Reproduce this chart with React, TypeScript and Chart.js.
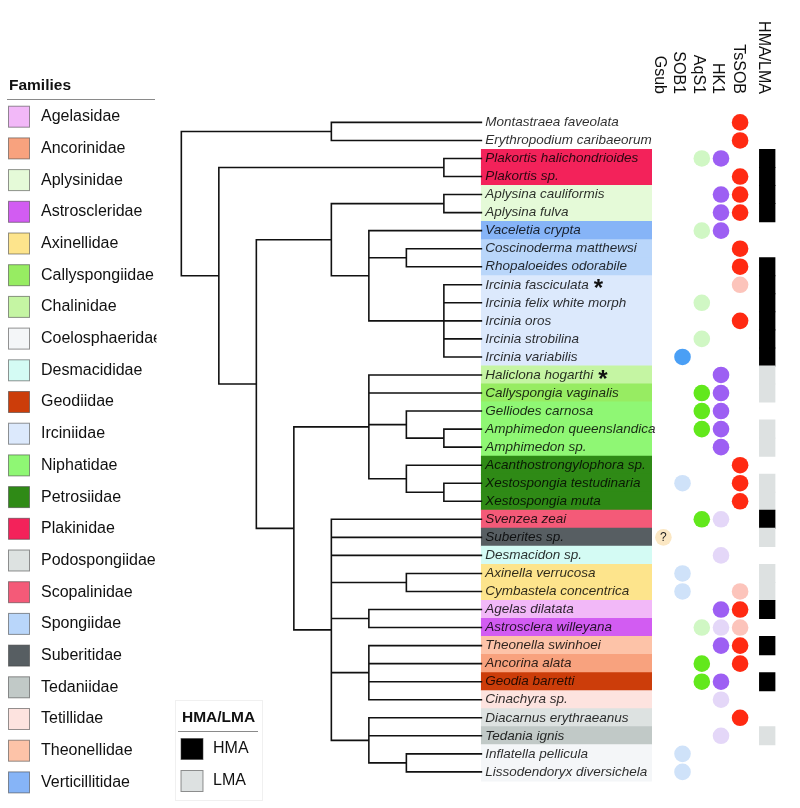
import React, { useEffect, useRef } from 'react';
import { Chart, registerables } from 'chart.js';

Chart.register(...registerables);

const FONT = '"Liberation Sans", Arial, sans-serif';

const SPECIES = [
  'Montastraea faveolata', 'Erythropodium caribaeorum', 'Plakortis halichondrioides', 'Plakortis sp.',
  'Aplysina cauliformis', 'Aplysina fulva', 'Vaceletia crypta', 'Coscinoderma matthewsi',
  'Rhopaloeides odorabile', 'Ircinia fasciculata', 'Ircinia felix white morph', 'Ircinia oros',
  'Ircinia strobilina', 'Ircinia variabilis', 'Haliclona hogarthi', 'Callyspongia vaginalis',
  'Gelliodes carnosa', 'Amphimedon queenslandica', 'Amphimedon sp.', 'Acanthostrongylophora sp.',
  'Xestospongia testudinaria', 'Xestospongia muta', 'Svenzea zeai', 'Suberites sp.',
  'Desmacidon sp.', 'Axinella verrucosa', 'Cymbastela concentrica', 'Agelas dilatata',
  'Astrosclera willeyana', 'Theonella swinhoei', 'Ancorina alata', 'Geodia barretti',
  'Cinachyra sp.', 'Diacarnus erythraeanus', 'Tedania ignis', 'Inflatella pellicula',
  'Lissodendoryx diversichela',
];

const STARRED = ['Ircinia fasciculata', 'Haliclona hogarthi'];

const SPECIES_FAMILY = [
  '', '', 'Plakinidae', 'Plakinidae',
  'Aplysinidae', 'Aplysinidae', 'Verticillitidae', 'Spongiidae',
  'Spongiidae', 'Irciniidae', 'Irciniidae', 'Irciniidae',
  'Irciniidae', 'Irciniidae', 'Chalinidae', 'Callyspongiidae',
  'Niphatidae', 'Niphatidae', 'Niphatidae', 'Petrosiidae',
  'Petrosiidae', 'Petrosiidae', 'Scopalinidae', 'Suberitidae',
  'Desmacididae', 'Axinellidae', 'Axinellidae', 'Agelasidae',
  'Astroscleridae', 'Theonellidae', 'Ancorinidae', 'Geodiidae',
  'Tetillidae', 'Podospongiidae', 'Tedaniidae', 'Coelosphaeridae',
  'Coelosphaeridae',
];

const FAMILIES = [
  'Agelasidae', 'Ancorinidae', 'Aplysinidae', 'Astroscleridae', 'Axinellidae', 'Callyspongiidae',
  'Chalinidae', 'Coelosphaeridae', 'Desmacididae', 'Geodiidae', 'Irciniidae', 'Niphatidae',
  'Petrosiidae', 'Plakinidae', 'Podospongiidae', 'Scopalinidae', 'Spongiidae', 'Suberitidae',
  'Tedaniidae', 'Tetillidae', 'Theonellidae', 'Verticillitidae',
];
const FAMILY_COLORS = [
  '#f2b8f8', '#f8a27e', '#e5fad8', '#d25cf2', '#fde48c', '#97ec62',
  '#c5f5a3', '#f4f6f8', '#d4fbf4', '#cc3d0a', '#dce9fc', '#8ff774',
  '#2f8a16', '#f3225a', '#dde2e1', '#f45a78', '#b9d6fa', '#575e62',
  '#c1c9c7', '#fde3df', '#fdc3a8', '#86b4f7',
];

// Gene presence per species: 0 = absent, 1 = present, 2 = partial / weak, 3 = uncertain
const GENES = ['Gsub', 'SOB1', 'AqS1', 'HK1', 'TsSOB'];
const GSUB = [0,0,0,0,0,0,0,0,0,0, 0,0,0,0,0,0,0,0,0,0, 0,0,0,3,0,0,0,0,0,0, 0,0,0,0,0,0,0];
const SOB1 = [0,0,0,0,0,0,0,0,0,0, 0,0,0,1,0,0,0,0,0,0, 2,0,0,0,0,2,2,0,0,0, 0,0,0,0,0,2,2];
const AQS1 = [0,0,2,0,0,0,2,0,0,0, 2,0,2,0,0,1,1,1,0,0, 0,0,1,0,0,0,0,0,2,0, 1,1,0,0,0,0,0];
const HK1 = [0,0,1,0,1,1,1,0,0,0, 0,0,0,0,1,1,1,1,1,0, 0,0,2,0,2,0,0,1,2,1, 0,1,2,0,2,0,0];
const TSSOB = [1,1,0,1,1,1,0,1,1,2, 0,1,0,0,0,0,0,0,0,1, 1,1,0,0,0,0,2,1,2,1, 1,0,0,1,0,0,0];
const GENE_VALUES = [GSUB, SOB1, AQS1, HK1, TSSOB];
const GENE_STRONG = ['#fbe7c3', '#4a9ff5', '#62e81c', '#9d5ff3', '#ff2a12'];
const GENE_WEAK = ['#fbe7c3', '#cfe2f9', '#d0f7c4', '#e4d7f8', '#fcc4bb'];

const HMA_LMA = ['', '', 'HMA', 'HMA', 'HMA', 'HMA', '', '', 'HMA', 'HMA',
  'HMA', 'HMA', 'HMA', 'HMA', 'LMA', 'LMA', '', 'LMA', 'LMA', '',
  'LMA', 'LMA', 'HMA', 'LMA', '', 'LMA', 'LMA', 'HMA', '', 'HMA',
  '', 'HMA', '', '', 'LMA', '', ''];
const HMA_CATS = ['HMA', 'LMA'];
const HMA_COLORS = ['#000000', '#dde1e1'];

// Cladogram: [nodeLevel, ...children]; numbers are species indices
const TREE: any = [0,
  [4, 0, 1],
  [1,
    [7, 2, 3],
    [2,
      [4, [7, 4, 5], [5, 6, [6, 7, 8], [7, 9, 10, 11, 12, 13]]],
      [3,
        [5, 14, 15, [6, 16, [7, 17, 18]], [6, 19, [7, 20, 21]]],
        [4, 22, 23, 24, [6, 25, 26], [5, 27, 28], [5, 29, 30, 31, 32], [5, 33, 34, [6, 35, 36]]],
      ],
    ],
  ],
];
const LEAF_LEVEL = 8;

// layout (x in page pixel units, y in row units)
const TREE_X0 = 176.7;
const TREE_STEP = 38.3;
const BOX_X0 = 483;
const BOX_X1 = 657;
const LABEL_X = 487;
const GENE_X = [669, 688.5, 708.2, 727.8, 747.3];
const HEADER_X = [665, 684.5, 704.5, 724, 745.5, 771];
const HMA_X0 = 767;
const HMA_X1 = 783;
const ROW_PX = 18.42;
const Y_MIN = -116.5 / ROW_PX;
const Y_MAX = Y_MIN + 808 / ROW_PX;

function levelX(l: number) { return TREE_X0 + l * TREE_STEP; }

function layoutTree(node: any, segs: number[][]): { x: number; y: number } {
  if (typeof node === 'number') return { x: levelX(LEAF_LEVEL), y: node };
  const [level, ...kids] = node;
  const x = levelX(level);
  const pts = kids.map((k: any) => layoutTree(k, segs));
  const y0 = pts[0].y;
  const y1 = pts[pts.length - 1].y;
  segs.push([x, y0, x, y1]);
  pts.forEach((p: any) => segs.push([x, p.y, p.x, p.y]));
  return { x, y: (y0 + y1) / 2 };
}

const overlay = {
  id: 'overlay',
  afterDatasetsDraw(chart: any) {
    const ctx = chart.ctx as CanvasRenderingContext2D;
    const xs = chart.scales.x;
    const ys = chart.scales.y;
    ctx.save();
    // species labels
    ctx.textBaseline = 'middle';
    ctx.textAlign = 'left';
    SPECIES.forEach((name, i) => {
      const y = ys.getPixelForValue(i);
      const x = xs.getPixelForValue(LABEL_X);
      ctx.font = `italic 13.5px ${FONT}`;
      ctx.fillStyle = 'rgba(0,0,0,0.82)';
      ctx.fillText(name, x, y);
      if (STARRED.includes(name)) {
        const w = ctx.measureText(name).width;
        ctx.font = `bold 24px ${FONT}`;
        ctx.fillStyle = '#111';
        ctx.fillText('*', x + w + 5, y + 5);
      }
    });
    // "?" for uncertain
    GSUB.forEach((v, i) => {
      if (v === 3) {
        ctx.font = `12px ${FONT}`;
        ctx.fillStyle = '#222';
        ctx.textAlign = 'center';
        ctx.fillText('?', xs.getPixelForValue(GENE_X[0]), ys.getPixelForValue(i) + 0.5);
      }
    });
    // column headers
    const headers = [...GENES, 'HMA/LMA'];
    ctx.font = `16px ${FONT}`;
    ctx.fillStyle = '#111';
    headers.forEach((h, i) => {
      ctx.save();
      ctx.translate(xs.getPixelForValue(HEADER_X[i]), 94);
      ctx.rotate(Math.PI / 2);
      ctx.textAlign = 'right';
      ctx.textBaseline = 'middle';
      ctx.fillText(h, 0, 0);
      ctx.restore();
    });

    // Families legend
    ctx.textAlign = 'left';
    ctx.textBaseline = 'middle';
    ctx.font = `bold 15.5px ${FONT}`;
    ctx.fillStyle = '#111';
    ctx.fillText('Families', 9, 86);
    ctx.strokeStyle = '#8a8a8a';
    ctx.lineWidth = 1;
    ctx.beginPath();
    ctx.moveTo(7, 99.5);
    ctx.lineTo(155, 99.5);
    ctx.stroke();
    ctx.save();
    ctx.beginPath();
    ctx.rect(0, 0, 156.5, 808);
    ctx.clip();
    FAMILIES.forEach((f, i) => {
      const cy = 116.7 + i * 31.7;
      ctx.fillStyle = FAMILY_COLORS[i];
      ctx.fillRect(8.5, cy - 10.5, 21, 21);
      ctx.strokeStyle = 'rgba(60,60,60,0.55)';
      ctx.strokeRect(8.5, cy - 10.5, 21, 21);
      ctx.fillStyle = '#111';
      ctx.font = `16px ${FONT}`;
      ctx.fillText(f, 41, cy);
    });
    ctx.restore();

    // HMA/LMA legend
    ctx.strokeStyle = '#f0f0f0';
    ctx.strokeRect(175.5, 700.5, 87, 100);
    ctx.font = `bold 15.5px ${FONT}`;
    ctx.fillStyle = '#111';
    ctx.fillText('HMA/LMA', 182, 718);
    ctx.strokeStyle = '#8a8a8a';
    ctx.beginPath();
    ctx.moveTo(178, 731.5);
    ctx.lineTo(258, 731.5);
    ctx.stroke();
    HMA_CATS.forEach((c, i) => {
      const cy = 749 + i * 32;
      ctx.fillStyle = HMA_COLORS[i];
      ctx.fillRect(181, cy - 10.5, 22, 21);
      ctx.strokeStyle = 'rgba(60,60,60,0.55)';
      ctx.strokeRect(181, cy - 10.5, 22, 21);
      ctx.fillStyle = '#111';
      ctx.font = `16px ${FONT}`;
      ctx.fillText(c, 213, cy);
    });
    ctx.restore();
  },
};

export default function App() {
  const ref = useRef<HTMLCanvasElement | null>(null);
  useEffect(() => {
    if (!ref.current) return;
    const segs: number[][] = [];
    layoutTree(TREE, segs);
    const treeData: any[] = [];
    segs.forEach(([x1, y1, x2, y2]) => {
      treeData.push({ x: x1, y: y1 }, { x: x2, y: y2 }, { x: null, y: null });
    });

    const boxRows = SPECIES.map((_, i) => i).filter((i) => SPECIES_FAMILY[i] !== '');
    const hmaRows = SPECIES.map((_, i) => i).filter((i) => HMA_LMA[i] !== '');

    const geneSets = GENES.map((g, gi) => {
      const rows = GENE_VALUES[gi].map((v, i) => [v, i]).filter(([v]) => v > 0);
      return {
        type: 'scatter',
        label: g,
        data: rows.map(([, i]) => ({ x: GENE_X[gi], y: i })),
        pointBackgroundColor: rows.map(([v]) => (v === 1 ? GENE_STRONG[gi] : GENE_WEAK[gi])),
        pointBorderWidth: 0,
        pointRadius: 8.3,
        showLine: false,
        order: 1,
      };
    });

    const chart = new Chart(ref.current, {
      type: 'scatter',
      data: {
        datasets: [
          {
            type: 'line',
            label: 'tree',
            data: treeData,
            borderColor: '#111',
            borderWidth: 1.6,
            borderCapStyle: 'square',
            pointRadius: 0,
            showLine: true,
            spanGaps: false,
            tension: 0,
            order: 0,
          } as any,
          ...geneSets,
          {
            type: 'bar',
            label: 'families',
            indexAxis: 'y',
            data: boxRows.map((i) => ({ x: [BOX_X0, BOX_X1], y: i })),
            backgroundColor: boxRows.map((i) => FAMILY_COLORS[FAMILIES.indexOf(SPECIES_FAMILY[i])]),
            barThickness: ROW_PX,
            grouped: false,
            borderWidth: 0,
            order: 5,
          } as any,
          {
            type: 'bar',
            label: 'HMA/LMA',
            indexAxis: 'y',
            data: hmaRows.map((i) => ({ x: [HMA_X0, HMA_X1], y: i })),
            backgroundColor: hmaRows.map((i) => HMA_COLORS[HMA_CATS.indexOf(HMA_LMA[i])]),
            barThickness: ROW_PX,
            grouped: false,
            borderWidth: 0,
            order: 5,
          } as any,
        ],
      },
      options: {
        responsive: false,
        animation: false,
        events: [],
        layout: { padding: 0 },
        plugins: { legend: { display: false }, tooltip: { enabled: false } },
        scales: {
          x: { type: 'linear', min: 0, max: 800, bounds: 'data', offset: false, grace: 0, display: false },
          y: { type: 'linear', min: Y_MIN, max: Y_MAX, bounds: 'data', offset: false, grace: 0, reverse: true, display: false },
        },
      } as any,
      plugins: [overlay],
    });
    return () => chart.destroy();
  }, []);

  return (
    <div style={{ position: 'fixed', left: 0, top: 0, width: 800, height: 808, background: '#fff' }}>
      <canvas ref={ref} width={800} height={808} style={{ display: 'block' }} />
    </div>
  );
}
